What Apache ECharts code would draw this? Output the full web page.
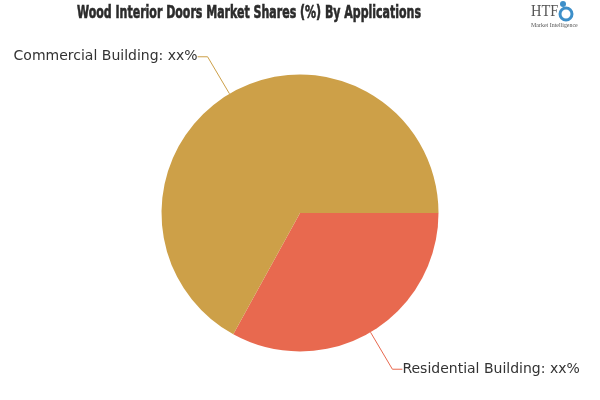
<!DOCTYPE html>
<html>
<head>
<meta charset="utf-8">
<script src="https://cdn.jsdelivr.net/npm/echarts@6/dist/echarts.min.js"></script>
<style>html,body{margin:0;padding:0;background:#fff;}#c{width:600px;height:400px;}</style>
</head>
<body>
<div id="c"></div>
<script>
const titleText = 'Wood Interior Doors Market Shares (%) By Applications';
const categories = ['Residential Building', 'Commercial Building'];
const values = [33, 67];
const labelTexts = ['xx%', 'xx%'];
const colors = ['#E8694F', '#CDA048'];

const titleFont = 'bold 18px "DejaVu Sans Condensed"';
const ctx = document.createElement('canvas').getContext('2d');
ctx.font = titleFont;
const titleW = ctx.measureText(titleText).width;
const titleScale = 344 / titleW;

const chart = echarts.init(document.getElementById('c'), null, {renderer: 'canvas'});
chart.setOption({
  backgroundColor: '#fff',
  animation: false,
  graphic: [
    {type: 'text', x: 77, y: 4, scaleX: titleScale, style: {text: titleText, font: titleFont, fill: '#2b2b2b', stroke: '#2b2b2b', lineWidth: 0.6}},
    {type: 'text', x: 531, y: 3, scaleX: 0.85, style: {text: 'HTF', font: '17px "Liberation Serif"', fill: '#555'}},
    {type: 'circle', shape: {cx: 566, cy: 14, r: 6}, style: {fill: 'none', stroke: '#3d8fc9', lineWidth: 3}},
    {type: 'circle', shape: {cx: 563, cy: 4, r: 3}, style: {fill: '#3d8fc9'}},
    {type: 'text', x: 531, y: 22, scaleX: 0.85, style: {text: 'Market Intelligence', font: '7px "Liberation Serif"', fill: '#555'}}
  ],
  series: [{
    type: 'pie',
    center: [300, 213],
    radius: 138.5,
    startAngle: 0,
    clockwise: true,
    avoidLabelOverlap: false,
    data: categories.map((c, i) => ({name: c, value: values[i], itemStyle: {color: colors[i]}})),
    label: {
      formatter: p => p.name + ': ' + labelTexts[p.dataIndex],
      fontFamily: 'DejaVu Sans',
      fontSize: 14,
      color: '#333',
      distanceToLabelLine: 0
    },
    labelLine: {length: 43, length2: 10, lineStyle: {width: 1}},
    emphasis: {disabled: true}
  }]
});
</script>
</body>
</html>
